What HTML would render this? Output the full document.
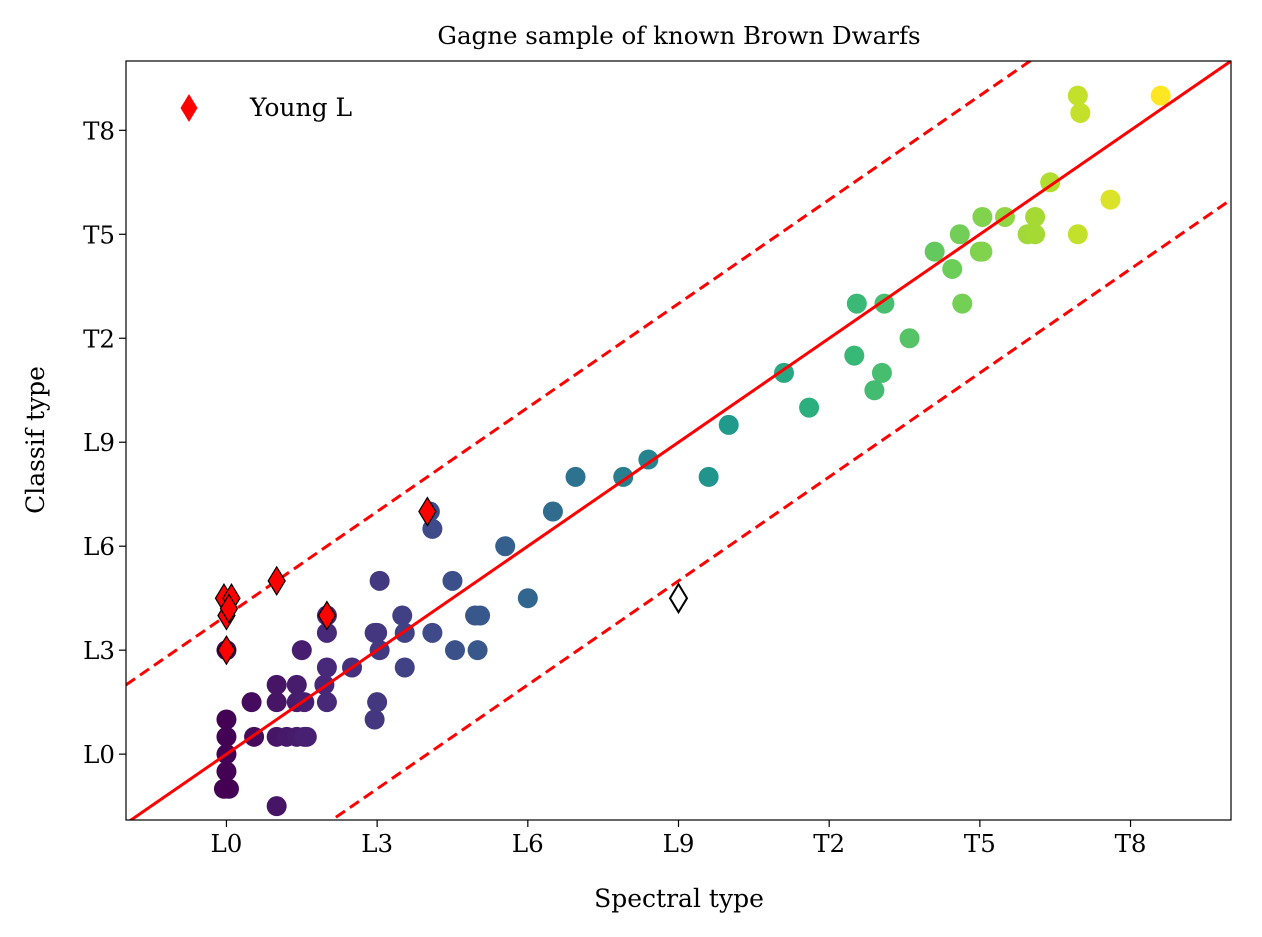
<!DOCTYPE html>
<html><head><meta charset="utf-8">
<style>
html,body{margin:0;padding:0;background:#fff;}
svg{display:block;font-family:"DejaVu Serif","Liberation Serif",serif;}
</style></head>
<body>
<svg id="chart" width="1262" height="937" viewBox="0 0 1262 937" xmlns="http://www.w3.org/2000/svg">
<rect width="1262" height="937" fill="#fff"/>
<text x="679" y="44" font-size="24.5" text-anchor="middle">Gagne sample of known Brown Dwarfs</text>
<text x="679" y="907" font-size="25" text-anchor="middle">Spectral type</text>
<text x="0" y="0" font-size="25" text-anchor="middle" transform="translate(44,440) rotate(-90)">Classif type</text>
<g id="marks"></g>
<g id="axes"></g>
</svg>
<script>
// data
const xTickVals = [0, 3, 6, 9, 12, 15, 18];
const xTickLabels = ["L0", "L3", "L6", "L9", "T2", "T5", "T8"];
const yTickVals = [0, 3, 6, 9, 12, 15, 18];
const yTickLabels = ["L0", "L3", "L6", "L9", "T2", "T5", "T8"];
const spectralX = [0,0,0,0,0.05,-0.05,0,0.5,0.55,1,1,1,1.2,1,1.4,1.4,1.4,1.5,1.55,1.6,1.55,1.95,2,2,2,2,2.5,2.95,3.05,3,2.95,3.05,3,3.5,3.55,3.55,4.05,4.1,4.1,4.5,4.55,4.95,5.05,5,5.55,6,6.5,6.95,7.9,8.4,9.6,10,11.1,11.6,12.5,12.55,12.9,13.05,13.1,13.6,14.1,14.45,14.6,14.65,15,15.05,15.05,15.5,15.95,16.1,16.1,16.4,16.95,17,16.95,17.6,18.6];
const classifY = [1,0.5,0,-0.5,-1,-1,3,1.5,0.5,2,1.5,0.5,0.5,-1.5,2,1.5,0.5,3,0.5,0.5,1.5,2,1.5,2.5,3.5,4,2.5,1,5,3.5,3.5,3,1.5,4,3.5,2.5,7,6.5,3.5,5,3,4,4,3,6,4.5,7,8,8,8.5,8,9.5,11,10,11.5,13,10.5,11,13,12,14.5,14,15,13,14.5,14.5,15.5,15.5,15,15,15.5,16.5,19,18.5,15,16,19];
const youngX = [-0.05,0.1,0,0.05,0,1,2,4];
const youngY = [4.5,4.5,4,4.2,3,5,4,7];
const openX = [9];
const openY = [4.5];

const NS = "http://www.w3.org/2000/svg";
const L = 126, R = 1231, T = 61, B = 820;
const xmin = -2, xmax = 20, ymin = -1.9, ymax = 20;
function sx(v){ return L + (v - xmin) / (xmax - xmin) * (R - L); }
function sy(v){ return B - (v - ymin) / (ymax - ymin) * (B - T); }
function mk(tag, attrs, parent){ const e = document.createElementNS(NS, tag); for (const k in attrs) e.setAttribute(k, attrs[k]); parent.appendChild(e); return e; }

const vir = [[68,1,84],[72,40,120],[62,74,137],[49,104,142],[38,130,142],[31,158,137],[53,183,121],[109,205,89],[180,222,44],[253,231,37]];
function viridis(t){
  t = Math.max(0, Math.min(1, t)) * (vir.length - 1);
  const i = Math.min(vir.length - 2, Math.floor(t)), f = t - i;
  const c = vir[i].map((a, k) => Math.round(a + (vir[i+1][k] - a) * f));
  return "rgb(" + c.join(",") + ")";
}

const marks = document.getElementById("marks");
const axes = document.getElementById("axes");
const defs = mk("defs", {}, marks);
const cp = mk("clipPath", {id: "clip"}, defs);
mk("rect", {x: L, y: T, width: R - L, height: B - T}, cp);
const plot = mk("g", {"clip-path": "url(#clip)"}, marks);

const cmin = Math.min(...spectralX), cmax = Math.max(...spectralX);
spectralX.forEach((x, i) => {
  const c = mk("circle", {cx: sx(x), cy: sy(classifY[i]), r: 10, fill: viridis((x - cmin) / (cmax - cmin))}, plot);
  
  
});

function lineFn(off, dashed, name){
  const l = mk("line", {x1: sx(xmin), y1: sy(xmin + off), x2: sx(xmax), y2: sy(xmax + off), stroke: "#ff0000", "stroke-width": 3}, plot);
  if (dashed) l.setAttribute("stroke-dasharray", "11,6");
  
  
}
lineFn(0, false, 'one-to-one-line');
lineFn(4, true, 'upper-bound-line');
lineFn(-4, true, 'lower-bound-line');

function diamond(cx, cy, fill, stroke){
  return mk("polygon", {points: `${cx},${cy-14} ${cx+8.5},${cy} ${cx},${cy+14} ${cx-8.5},${cy}`, fill: fill, stroke: stroke, "stroke-width": 1.2}, plot);
}
youngX.forEach((x, i) => {
  const d = diamond(sx(x), sy(youngY[i]), "#ff0000", "#000");
  
  
});
openX.forEach((x, i) => {
  const d = diamond(sx(x), sy(openY[i]), "#fff", "#000");
  d.setAttribute("stroke-width", 2);
  
  
});

const fr = mk("rect", {x: L, y: T, width: R - L, height: B - T, fill: "none", stroke: "#000", "stroke-width": 1.2}, axes);


xTickVals.forEach((v, i) => {
  const x = sx(v);
  mk("line", {x1: x, y1: B, x2: x, y2: B + 7, stroke: "#000", "stroke-width": 1.2}, axes);
  const t = mk("text", {x: x, y: B + 32, "font-size": 24.5, "text-anchor": "middle"}, axes);
  t.textContent = xTickLabels[i];
  
  
});
yTickVals.forEach((v, i) => {
  const y = sy(v);
  mk("line", {x1: L - 7, y1: y, x2: L, y2: y, stroke: "#000", "stroke-width": 1.2}, axes);
  const t = mk("text", {x: L - 11, y: y + 9, "font-size": 24.5, "text-anchor": "end"}, axes);
  t.textContent = yTickLabels[i];
  
  
});
const lg = mk("g", {}, axes);


mk("polygon", {points: "189,94 197.5,108 189,122 180.5,108", fill: "#ff0000"}, lg);
const lt = mk("text", {x: 250, y: 116, "font-size": 25}, lg);
lt.textContent = "Young L";


</script>
</body></html>
